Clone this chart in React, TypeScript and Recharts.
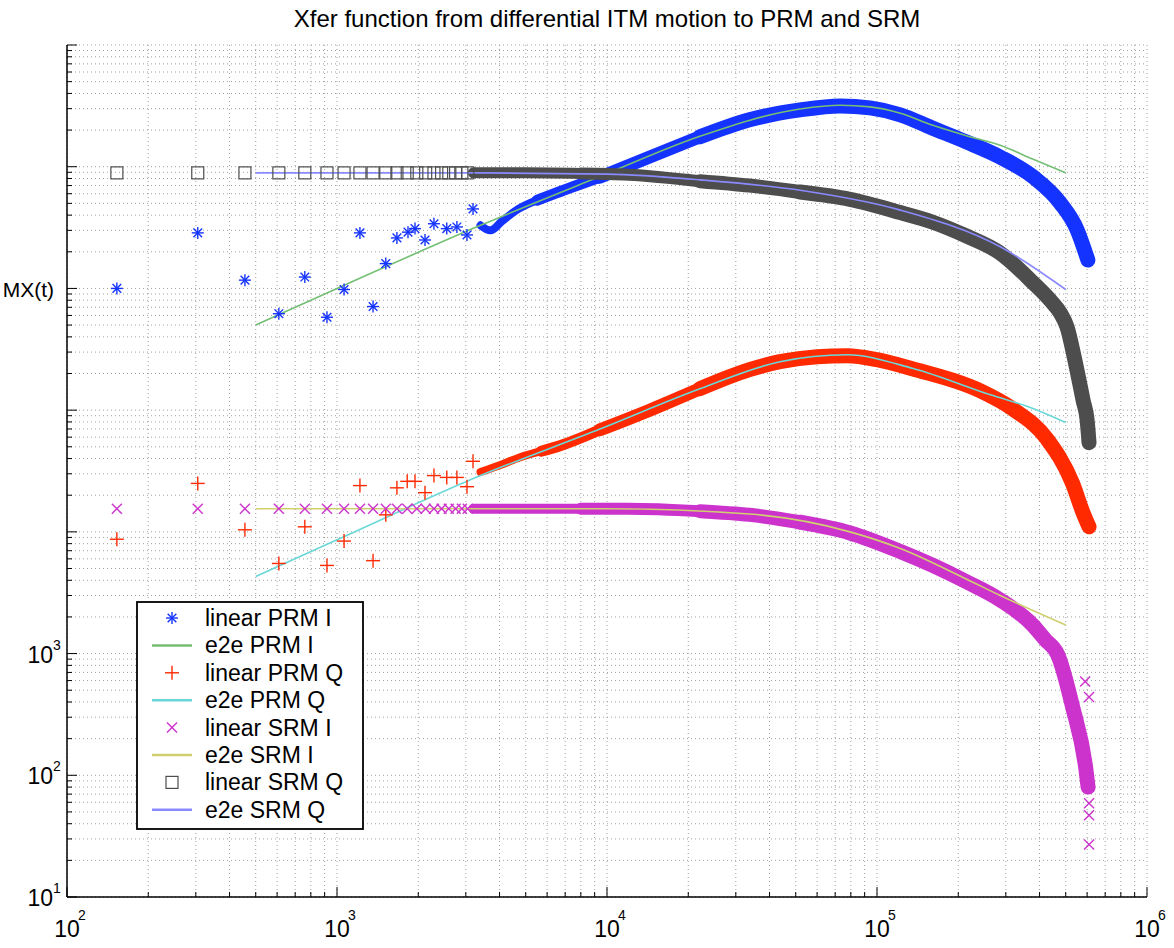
import React from 'react';
import { ComposedChart, Line, Scatter, XAxis, YAxis, CartesianGrid } from 'recharts';

type Pt = { x: number; y: number };
const pts = (rows: number[][]): Pt[] => rows.map(([x, y]) => ({ x, y }));

// axes
const xDecades = [1e2, 1e3, 1e4, 1e5, 1e6];
const yDecades = [1e1, 1e2, 1e3, 1e4, 1e5, 1e6, 1e7, 1e8];
const yLabelled = [1e1, 1e2, 1e3];
const minorSteps = [1, 2, 3, 4, 5, 6, 7, 8, 9];

// linear PRM I (blue asterisks)
const prmIMarks = pts([
  [153, 1.0e6], [305, 2.86e6], [456, 1.17e6], [609, 6.2e5], [760, 1.24e6], [918, 5.8e5],
  [1062, 9.8e5], [1216, 2.86e6], [1360, 7.1e5], [1516, 1.6e6], [1667, 2.6e6], [1832, 2.9e6],
  [1945, 3.1e6], [2118, 2.5e6], [2286, 3.4e6], [2550, 3.1e6], [2780, 3.2e6], [3030, 2.75e6],
  [3190, 4.5e6],
]);
const prmIBand = pts([
  [3400, 3.3e6], [3700, 3.0e6], [4100, 3.6e6], [4700, 4.5e6], [5500, 5.3e6], [6500, 6.1e6],
  [9400, 8.2e6], [14400, 1.2e7], [22100, 1.76e7], [33700, 2.43e7], [51900, 2.93e7],
  [73000, 3.16e7], [94200, 3.04e7], [1.22e5, 2.67e7], [1.6e5, 2.08e7], [2.14e5, 1.6e7],
  [2.86e5, 1.2e7], [3.79e5, 8.24e6], [4.77e5, 5.04e6], [5.51e5, 3.03e6], [6.04e5, 1.71e6],
]);
// e2e PRM I (green)
const prmIFit = pts([
  [500, 5.0e5], [1000, 1.0e6], [3400, 3.3e6], [9400, 8.3e6], [22100, 1.78e7], [51900, 2.98e7],
  [73000, 3.2e7], [94200, 3.1e7], [1.22e5, 2.75e7], [1.6e5, 2.2e7], [2.14e5, 1.8e7],
  [2.86e5, 1.5e7], [3.79e5, 1.15e7], [5e5, 8.9e6],
]);

// linear PRM Q (red plus)
const prmQMarks = pts([
  [153, 8.7e3], [305, 2.5e4], [456, 1.04e4], [609, 5.5e3], [760, 1.1e4], [918, 5.3e3],
  [1062, 8.4e3], [1216, 2.4e4], [1360, 5.8e3], [1516, 1.38e4], [1667, 2.3e4], [1820, 2.6e4],
  [1945, 2.6e4], [2118, 2.1e4], [2286, 2.9e4], [2550, 2.8e4], [2780, 2.8e4], [3030, 2.35e4],
  [3190, 3.8e4],
]);
const prmQBand = pts([
  [3400, 3.1e4], [4100, 3.6e4], [4770, 4.1e4], [5700, 4.6e4], [6700, 5.1e4], [9420, 6.9e4],
  [14400, 1.0e5], [22100, 1.5e5], [33700, 2.15e5], [43700, 2.5e5], [60000, 2.75e5],
  [77400, 2.8e5], [1.0e5, 2.6e5], [1.36e5, 2.18e5], [2.4e5, 1.45e5], [3.19e5, 1.02e5],
  [4.26e5, 5.8e4], [5.3e5, 2.5e4], [5.8e5, 1.43e4], [6.1e5, 1.1e4],
]);
// e2e PRM Q (cyan)
const prmQFit = pts([
  [500, 4.3e3], [1000, 8.6e3], [3400, 2.9e4], [9420, 7.0e4], [22100, 1.5e5], [43700, 2.5e5],
  [77400, 2.85e5], [1.36e5, 2.2e5], [2.65e5, 1.33e5], [3.7e5, 1.05e5], [5e5, 7.9e4],
]);

// linear SRM I (magenta x)
const srmIMarks = pts([
  [153, 1.55e4], [305, 1.55e4], [456, 1.55e4], [609, 1.55e4], [760, 1.55e4], [918, 1.55e4],
  [1062, 1.55e4], [1216, 1.55e4], [1360, 1.55e4], [1516, 1.55e4], [1667, 1.55e4],
  [1820, 1.55e4], [1975, 1.55e4], [2130, 1.55e4], [2286, 1.55e4], [2440, 1.55e4],
  [2595, 1.55e4], [2750, 1.55e4], [2900, 1.55e4], [3050, 1.55e4],
  [5.9e5, 590], [6.1e5, 440], [6.1e5, 59], [6.1e5, 47], [6.1e5, 27],
]);
const srmIBand = pts([
  [3200, 1.55e4], [5000, 1.55e4], [8000, 1.55e4], [1.2e4, 1.55e4], [22100, 1.48e4],
  [33700, 1.38e4], [51900, 1.2e4], [79400, 9.8e3], [1.22e5, 6.9e3], [1.61e5, 5.3e3],
  [2.14e5, 3.9e3], [2.86e5, 2.76e3], [3.79e5, 1.7e3], [4.2e5, 1.3e3], [4.67e5, 980],
  [5.31e5, 360], [5.93e5, 115], [6.05e5, 80],
]);
// e2e SRM I (olive)
const srmIFit = pts([
  [500, 1.55e4], [1e4, 1.55e4], [33700, 1.4e4], [79400, 1.0e4], [1.22e5, 7.3e3],
  [2.14e5, 4.1e3], [2.86e5, 3.0e3], [5e5, 1.72e3],
]);

// linear SRM Q (grey squares)
const srmQMarks = pts([
  [153, 8.9e6], [305, 8.9e6], [456, 8.9e6], [609, 8.9e6], [760, 8.9e6], [918, 8.9e6],
  [1062, 8.9e6], [1216, 8.9e6], [1360, 8.9e6], [1516, 8.9e6], [1667, 8.9e6], [1820, 8.9e6],
  [1975, 8.9e6], [2130, 8.9e6], [2286, 8.9e6], [2440, 8.9e6], [2595, 8.9e6], [2750, 8.9e6],
  [2900, 8.9e6], [3050, 8.9e6],
]);
const srmQBand = pts([
  [3200, 8.9e6], [5000, 8.9e6], [8000, 8.8e6], [1.2e4, 8.6e6], [22100, 7.6e6], [33700, 7.0e6],
  [51900, 6.2e6], [79400, 5.4e6], [1.22e5, 4.2e6], [1.61e5, 3.5e6], [2.14e5, 2.7e6],
  [2.86e5, 1.95e6], [3.79e5, 1.11e6], [4.38e5, 8.0e5], [4.77e5, 6.3e5], [5.06e5, 4.8e5],
  [5.4e5, 2.6e5], [5.8e5, 1.2e5], [6.0e5, 8.3e4], [6.1e5, 5.4e4],
]);
// e2e SRM Q (lavender)
const srmQFit = pts([
  [500, 8.9e6], [3200, 8.9e6], [1e4, 8.7e6], [22100, 7.8e6], [51900, 6.4e6], [1.22e5, 4.4e6],
  [2.86e5, 2.2e6], [5e5, 9.8e5],
]);

const BLUE = '#1433ff';
const RED = '#ff2a00';
const MAGENTA = '#cc33cc';
const GREY = '#4d4d4d';
const GREEN = '#74bf74';
const CYAN = '#6ad8d8';
const OLIVE = '#cfcf70';
const LAVENDER = '#8a8aff';

const legendItems = [
  { name: 'linear PRM I', marker: 'asterisk', color: BLUE },
  { name: 'e2e PRM I', marker: 'line', color: GREEN },
  { name: 'linear PRM Q', marker: 'plus', color: RED },
  { name: 'e2e PRM Q', marker: 'line', color: CYAN },
  { name: 'linear SRM I', marker: 'cross', color: MAGENTA },
  { name: 'e2e SRM I', marker: 'line', color: OLIVE },
  { name: 'linear SRM Q', marker: 'square', color: GREY },
  { name: 'e2e SRM Q', marker: 'line', color: LAVENDER },
];

const withMinor = (decades: number[]) =>
  decades.flatMap((d, i) => (i === decades.length - 1 ? [d] : minorSteps.map((m) => m * d)));
const xTicks = withMinor(xDecades);
const yTicks = withMinor(yDecades);

const FONT = '"Liberation Sans", Arial, Helvetica, sans-serif';

const isDecade = (v: number) => Math.abs(Math.log10(v) - Math.round(Math.log10(v))) < 1e-9;

const Marker = ({ cx, cy, kind, color }: { cx: number; cy: number; kind: string; color: string }) => {
  if (kind === 'asterisk') {
    const r = 6;
    const d = r * 0.72;
    return (
      <g stroke={color} strokeWidth={1.4}>
        <line x1={cx - r} y1={cy} x2={cx + r} y2={cy} />
        <line x1={cx} y1={cy - r} x2={cx} y2={cy + r} />
        <line x1={cx - d} y1={cy - d} x2={cx + d} y2={cy + d} />
        <line x1={cx - d} y1={cy + d} x2={cx + d} y2={cy - d} />
      </g>
    );
  }
  if (kind === 'plus') {
    const r = 7;
    return (
      <g stroke={color} strokeWidth={1.4}>
        <line x1={cx - r} y1={cy} x2={cx + r} y2={cy} />
        <line x1={cx} y1={cy - r} x2={cx} y2={cy + r} />
      </g>
    );
  }
  if (kind === 'cross') {
    const r = 5;
    return (
      <g stroke={color} strokeWidth={1.4}>
        <line x1={cx - r} y1={cy - r} x2={cx + r} y2={cy + r} />
        <line x1={cx - r} y1={cy + r} x2={cx + r} y2={cy - r} />
      </g>
    );
  }
  if (kind === 'square') {
    return <rect x={cx - 6} y={cy - 6} width={12} height={12} fill="none" stroke={color} strokeWidth={1.2} />;
  }
  return <line x1={cx - 20} y1={cy} x2={cx + 20} y2={cy} stroke={color} strokeWidth={2.5} />;
};

const shapeOf = (kind: string, color: string) => (p: any) => (
  <Marker cx={p.cx} cy={p.cy} kind={kind} color={color} />
);

const XTick = (props: any) => {
  const { x, y, payload, top } = props;
  const v = payload.value;
  const major = isDecade(v);
  const exp = Math.round(Math.log10(v));
  const dir = top ? 1 : -1;
  return (
    <g>
      <line x1={x} y1={y} x2={x} y2={y + dir * (major ? 10 : 5)} stroke="#000" />
      {!top && major && (
        <g fontFamily={FONT} fill="#000">
          <text x={x} y={y + 40} textAnchor="middle" fontSize={23}>10</text>
          <text x={x + 11} y={y + 23} fontSize={14}>{exp}</text>
        </g>
      )}
    </g>
  );
};

const YTick = (props: any) => {
  const { x, y, payload, right } = props;
  const v = payload.value;
  const major = isDecade(v);
  const exp = Math.round(Math.log10(v));
  const dir = right ? -1 : 1;
  return (
    <g>
      <line x1={x} y1={y} x2={x + dir * (major ? 10 : 5)} y2={y} stroke="#000" />
      {!right && major && yLabelled.includes(v) && (
        <g fontFamily={FONT} fill="#000">
          <text x={x - 14} y={y + 9} textAnchor="end" fontSize={23}>10</text>
          <text x={x - 14} y={y - 4} fontSize={14}>{exp}</text>
        </g>
      )}
    </g>
  );
};

const axisCommon = {
  type: 'number' as const,
  scale: 'log' as const,
  allowDataOverflow: true,
  interval: 0 as const,
  tickSize: 0,
  tickMargin: 0,
  tickLine: false,
  axisLine: { stroke: '#000', strokeWidth: 1.5 },
};

// dense marker clouds: drawn as a thick stroke that widens to the right
const taper = (data: Pt[], color: string, cuts: number[], widths: number[]) =>
  widths.map((w, i) => (
    <Line
      key={`${color}-${i}`}
      data={data.slice(cuts[i], i + 1 < cuts.length ? cuts[i + 1] + 1 : undefined)}
      dataKey="y"
      type="monotone"
      stroke={color}
      strokeWidth={w}
      strokeLinecap="round"
      strokeLinejoin="round"
      dot={false}
      activeDot={false}
      isAnimationActive={false}
      legendType="none"
    />
  ));

const fit = (data: Pt[], color: string) => (
  <Line
    data={data}
    dataKey="y"
    type="monotone"
    stroke={color}
    strokeWidth={1.6}
    dot={false}
    activeDot={false}
    isAnimationActive={false}
    legendType="none"
  />
);

const marks = (data: Pt[], kind: string, color: string) => (
  <Scatter data={data} dataKey="y" shape={shapeOf(kind, color)} isAnimationActive={false} legendType="none" />
);

export default function App() {
  return (
    <div style={{ position: 'absolute', left: 0, top: 0, width: 1174, height: 948, background: '#fff' }}>
      <ComposedChart width={1174} height={948} margin={{ top: 45, right: 27, bottom: 0, left: 0 }}>
        <CartesianGrid stroke="#a0a0a0" strokeDasharray="1 3" />
        <XAxis {...axisCommon} dataKey="x" domain={[1e2, 1e6]} ticks={xTicks} height={51} tick={<XTick />} />
        <XAxis {...axisCommon} xAxisId="top" orientation="top" dataKey="x" domain={[1e2, 1e6]} ticks={xTicks} height={0} tick={<XTick top />} />
        <YAxis {...axisCommon} dataKey="y" domain={[1e1, 1e8]} ticks={yTicks} width={67} tick={<YTick />} />
        <YAxis {...axisCommon} yAxisId="right" orientation="right" dataKey="y" domain={[1e1, 1e8]} ticks={yTicks} width={0} tick={<YTick right />} />

        {taper(prmIBand, BLUE, [0, 4, 6, 8], [8, 11, 13, 15])}
        {marks(prmIMarks, 'asterisk', BLUE)}
        {fit(prmIFit, GREEN)}
        {taper(prmQBand, RED, [0, 3, 5, 7], [8, 11, 13, 15])}
        {marks(prmQMarks, 'plus', RED)}
        {fit(prmQFit, CYAN)}
        {taper(srmIBand, MAGENTA, [0, 2, 4, 6], [10, 12, 14, 15])}
        {marks(srmIMarks, 'cross', MAGENTA)}
        {fit(srmIFit, OLIVE)}
        {taper(srmQBand, GREY, [0, 2, 4, 6], [11, 12, 14, 15])}
        {marks(srmQMarks, 'square', GREY)}
        {fit(srmQFit, LAVENDER)}
      </ComposedChart>

      <svg width={1174} height={948} style={{ position: 'absolute', left: 0, top: 0, pointerEvents: 'none' }}>
        <g fontFamily={FONT} fill="#000">
          <text x={607} y={27} textAnchor="middle" fontSize={24}>
            Xfer function from differential ITM motion to PRM and SRM
          </text>
          <text x={54} y={297} textAnchor="end" fontSize={21}>MX(t)</text>
        </g>
        <rect x={137} y={602} width={226} height={227} fill="#fff" stroke="#000" strokeWidth={1.8} />
        {legendItems.map((item, i) => {
          const cy = 618 + i * 27.4;
          return (
            <g key={item.name}>
              <Marker cx={172} cy={cy} kind={item.marker} color={item.color} />
              <text x={205} y={cy + 8} fontFamily={FONT} fontSize={23} fill="#000">{item.name}</text>
            </g>
          );
        })}
      </svg>
    </div>
  );
}
